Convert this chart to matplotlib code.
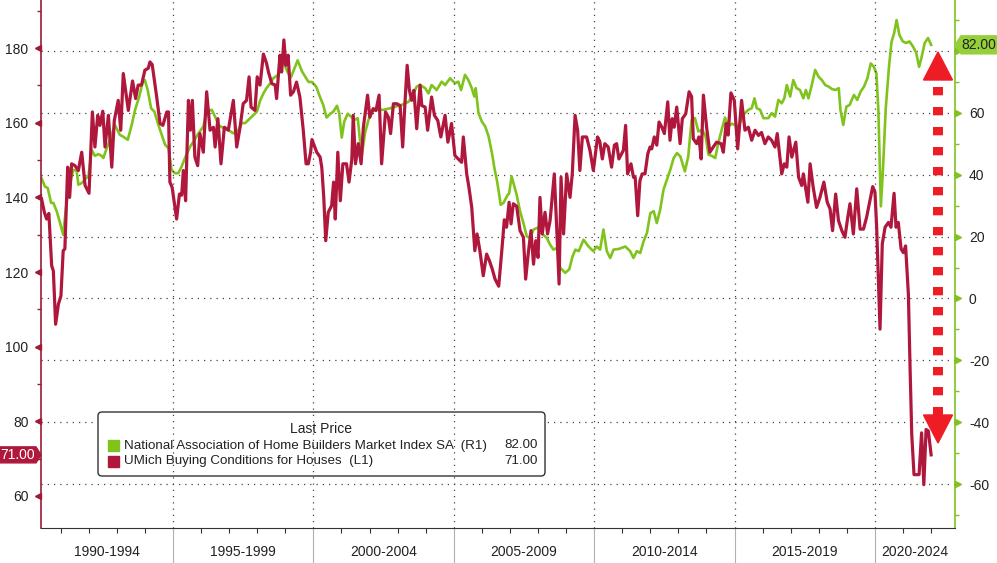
import numpy as np
import matplotlib
matplotlib.use('Agg')
import matplotlib.pyplot as plt
from matplotlib import font_manager
from matplotlib.lines import Line2D
from matplotlib.patches import Polygon, Rectangle, FancyBboxPatch
from matplotlib.transforms import ScaledTranslation, IdentityTransform, blended_transform_factory

# UMich Buying Conditions for Houses (left axis)
umich_x = [1990.32, 1990.42, 1990.50, 1990.58, 1990.68, 1990.74, 1990.82, 1990.92, 1991.01, 1991.09,
           1991.15, 1991.25, 1991.32, 1991.39, 1991.51, 1991.63, 1991.75, 1991.87, 1992.01, 1992.13,
           1992.22, 1992.32, 1992.40, 1992.50, 1992.58, 1992.70, 1992.82, 1992.91, 1993.05, 1993.14,
           1993.23, 1993.41, 1993.56, 1993.67, 1993.76, 1993.88, 1994.00, 1994.12, 1994.18, 1994.26,
           1994.42, 1994.54, 1994.64, 1994.78, 1994.84, 1994.89, 1994.97, 1995.13, 1995.23, 1995.31,
           1995.37, 1995.45, 1995.55, 1995.62, 1995.69, 1995.78, 1995.88, 1995.96, 1996.08, 1996.20,
           1996.32, 1996.44, 1996.50, 1996.60, 1996.71, 1996.83, 1996.97, 1997.15, 1997.27, 1997.39,
           1997.50, 1997.62, 1997.71, 1997.78, 1997.92, 1998.00, 1998.10, 1998.22, 1998.33, 1998.40,
           1998.52, 1998.64, 1998.69, 1998.81, 1998.87, 1998.95, 1999.02, 1999.10, 1999.19, 1999.29,
           1999.40, 1999.52, 1999.64, 1999.74, 1999.82, 1999.90, 1999.95, 2000.12, 2000.24, 2000.30,
           2000.37, 2000.44, 2000.53, 2000.65, 2000.72, 2000.78, 2000.87, 2000.96, 2001.05, 2001.18,
           2001.27, 2001.37, 2001.42, 2001.50, 2001.60, 2001.70, 2001.78, 2001.93, 2002.01, 2002.13,
           2002.23, 2002.34, 2002.43, 2002.57, 2002.67, 2002.75, 2002.85, 2002.97, 2003.09, 2003.18,
           2003.26, 2003.34, 2003.42, 2003.50, 2003.58, 2003.68, 2003.80, 2003.86, 2003.98, 2004.07,
           2004.21, 2004.31, 2004.43, 2004.54, 2004.69, 2004.79, 2004.92, 2005.04, 2005.16, 2005.28,
           2005.34, 2005.46, 2005.54, 2005.64, 2005.75, 2005.83, 2005.93, 2006.05, 2006.17, 2006.27,
           2006.37, 2006.47, 2006.60, 2006.71, 2006.80, 2006.88, 2006.97, 2007.04, 2007.12, 2007.24,
           2007.36, 2007.48, 2007.56, 2007.65, 2007.75, 2007.84, 2007.92, 2008.00, 2008.07, 2008.15,
           2008.25, 2008.34, 2008.43, 2008.58, 2008.67, 2008.75, 2008.82, 2008.91, 2009.02, 2009.14,
           2009.22, 2009.32, 2009.41, 2009.49, 2009.58, 2009.73, 2009.85, 2009.97, 2010.12, 2010.20,
           2010.29, 2010.38, 2010.50, 2010.62, 2010.72, 2010.80, 2010.88, 2011.04, 2011.12, 2011.19,
           2011.31, 2011.40, 2011.46, 2011.55, 2011.63, 2011.71, 2011.81, 2011.91, 2011.99, 2012.05,
           2012.14, 2012.23, 2012.31, 2012.41, 2012.50, 2012.62, 2012.70, 2012.78, 2012.85, 2012.94,
           2013.06, 2013.14, 2013.26, 2013.38, 2013.47, 2013.53, 2013.65, 2013.73, 2013.81, 2013.89,
           2014.01, 2014.12, 2014.24, 2014.36, 2014.52, 2014.60, 2014.70, 2014.77, 2014.87, 2014.99,
           2015.11, 2015.25, 2015.37, 2015.49, 2015.61, 2015.73, 2015.85, 2015.96, 2016.08, 2016.20,
           2016.32, 2016.44, 2016.52, 2016.68, 2016.77, 2016.86, 2016.94, 2017.04, 2017.18, 2017.28,
           2017.39, 2017.45, 2017.61, 2017.69, 2017.80, 2017.92, 2018.04, 2018.18, 2018.30, 2018.40,
           2018.49, 2018.60, 2018.70, 2018.82, 2018.93, 2019.03, 2019.11, 2019.23, 2019.35, 2019.47,
           2019.59, 2019.70, 2019.82, 2019.92, 2020.00, 2020.06, 2020.18, 2020.26, 2020.36, 2020.48,
           2020.57, 2020.68, 2020.75, 2020.83, 2020.93, 2021.01, 2021.09, 2021.19, 2021.25, 2021.31,
           2021.39, 2021.49, 2021.57, 2021.66, 2021.74, 2021.82, 2021.90, 2022.00]
umich_y = [139.6, 136.0, 134.2, 135.7, 121.7, 120.3, 106.0, 111.4, 113.6, 125.7,
           126.2, 148.1, 140.0, 149.0, 148.5, 147.2, 152.1, 143.2, 141.1, 162.9,
           153.5, 162.0, 159.3, 163.1, 153.5, 162.0, 148.1, 160.6, 166.0, 158.0,
           173.2, 163.3, 171.2, 166.5, 170.1, 170.1, 174.1, 174.6, 176.3, 175.6,
           166.9, 159.8, 159.3, 162.9, 162.9, 144.1, 142.7, 134.2, 140.9, 140.6,
           147.2, 139.1, 166.0, 158.0, 166.0, 150.8, 148.5, 157.1, 152.1, 168.3,
           158.0, 158.8, 153.5, 161.1, 149.0, 158.8, 158.0, 166.0, 153.5, 158.8,
           165.1, 166.0, 172.3, 164.2, 163.3, 172.3, 170.1, 178.4, 176.0, 173.6,
           170.5, 170.1, 166.5, 178.1, 173.6, 182.2, 175.4, 178.1, 167.4, 168.3,
           170.9, 166.9, 158.0, 149.0, 149.0, 152.1, 155.5, 152.1, 150.8, 148.0,
           140.0, 128.4, 136.0, 137.8, 144.1, 134.2, 152.1, 139.1, 149.0, 149.0,
           144.1, 150.3, 162.0, 149.0, 154.4, 149.0, 158.8, 167.4, 161.5, 163.8,
           163.3, 167.4, 149.0, 162.9, 161.5, 157.1, 165.1, 165.1, 164.6, 153.5,
           165.1, 175.4, 168.7, 166.0, 168.7, 158.4, 170.1, 164.6, 164.2, 158.0,
           166.9, 162.0, 160.6, 156.2, 162.0, 154.8, 159.8, 151.2, 150.3, 149.4,
           156.2, 146.3, 142.7, 137.3, 125.7, 130.2, 125.7, 119.0, 124.8, 123.0,
           120.8, 118.1, 116.2, 125.7, 134.0, 132.0, 138.7, 132.9, 138.3, 137.6,
           131.1, 129.3, 118.1, 124.8, 131.1, 122.1, 128.4, 123.9, 140.0, 130.2,
           136.0, 130.2, 133.8, 146.3, 131.1, 116.8, 145.4, 130.2, 146.3, 140.0,
           146.3, 162.0, 158.0, 147.2, 156.2, 156.2, 152.6, 147.2, 156.2, 155.0,
           150.3, 154.4, 153.5, 148.1, 154.0, 154.4, 150.3, 152.6, 159.3, 146.3,
           149.0, 145.4, 145.4, 135.1, 144.5, 146.3, 146.3, 151.7, 153.5, 153.0,
           156.2, 154.0, 160.2, 158.8, 157.1, 165.6, 155.3, 161.1, 158.8, 164.2,
           154.4, 161.1, 162.4, 168.3, 167.0, 155.7, 154.4, 156.2, 150.3, 167.4,
           158.4, 152.1, 153.5, 154.8, 154.4, 152.1, 159.8, 156.7, 168.0, 166.0,
           153.0, 166.0, 158.0, 158.8, 155.3, 158.0, 156.6, 157.4, 154.4, 156.2,
           155.3, 153.5, 157.1, 146.3, 149.0, 148.1, 156.2, 150.8, 154.8, 145.4,
           143.2, 146.3, 138.7, 149.0, 142.7, 137.3, 140.0, 144.1, 138.7, 136.9,
           131.1, 140.9, 133.8, 131.1, 129.3, 134.6, 138.3, 130.2, 142.3, 131.5,
           131.5, 134.6, 139.1, 142.9, 141.4, 132.0, 104.7, 127.5, 132.0, 133.3,
           132.0, 141.1, 132.0, 133.3, 126.2, 125.2, 127.0, 114.0, 94.3, 76.4,
           65.7, 65.7, 65.7, 76.9, 63.0, 77.8, 77.4, 71.0]

# NAHB Market Index SA (right axis)
nahb_x = [1990.32, 1990.44, 1990.54, 1990.66, 1990.74, 1990.86, 1990.98, 1991.09, 1991.21, 1991.33,
          1991.45, 1991.57, 1991.63, 1991.75, 1991.87, 1991.99, 1992.10, 1992.22, 1992.34, 1992.46,
          1992.52, 1992.64, 1992.76, 1992.93, 1993.11, 1993.23, 1993.39, 1993.53, 1993.65, 1993.80,
          1993.91, 1994.00, 1994.10, 1994.22, 1994.34, 1994.48, 1994.60, 1994.72, 1994.84, 1994.95,
          1995.07, 1995.19, 1995.31, 1995.45, 1995.61, 1995.77, 1995.91, 1996.08, 1996.20, 1996.38,
          1996.50, 1996.62, 1996.79, 1996.97, 1997.15, 1997.33, 1997.45, 1997.57, 1997.75, 1997.87,
          1997.99, 1998.10, 1998.22, 1998.33, 1998.46, 1998.57, 1998.75, 1998.93, 1999.07, 1999.20,
          1999.44, 1999.59, 1999.71, 1999.83, 1999.95, 2000.10, 2000.22, 2000.35, 2000.47, 2000.60,
          2000.71, 2000.84, 2000.92, 2001.01, 2001.10, 2001.22, 2001.34, 2001.46, 2001.58, 2001.72,
          2001.84, 2001.96, 2002.08, 2002.26, 2002.50, 2002.73, 2002.91, 2003.15, 2003.39, 2003.51,
          2003.68, 2003.80, 2003.98, 2004.10, 2004.21, 2004.39, 2004.57, 2004.69, 2004.87, 2005.04,
          2005.16, 2005.26, 2005.40, 2005.52, 2005.64, 2005.73, 2005.78, 2005.88, 2006.00, 2006.12,
          2006.24, 2006.36, 2006.45, 2006.54, 2006.60, 2006.67, 2006.77, 2006.92, 2006.97, 2007.06,
          2007.16, 2007.24, 2007.36, 2007.48, 2007.60, 2007.72, 2007.84, 2007.96, 2008.07, 2008.19,
          2008.31, 2008.43, 2008.55, 2008.67, 2008.79, 2008.85, 2008.97, 2009.11, 2009.23, 2009.33,
          2009.45, 2009.62, 2009.80, 2009.97, 2010.09, 2010.21, 2010.33, 2010.45, 2010.57, 2010.69,
          2010.87, 2011.11, 2011.28, 2011.40, 2011.52, 2011.64, 2011.76, 2011.88, 2012.00, 2012.12,
          2012.23, 2012.35, 2012.47, 2012.59, 2012.71, 2012.83, 2012.95, 2013.07, 2013.23, 2013.35,
          2013.47, 2013.59, 2013.71, 2013.85, 2013.97, 2014.07, 2014.19, 2014.31, 2014.42, 2014.54,
          2014.66, 2014.78, 2014.90, 2015.02, 2015.14, 2015.31, 2015.49, 2015.61, 2015.71, 2015.79,
          2015.91, 2016.03, 2016.20, 2016.32, 2016.44, 2016.56, 2016.68, 2016.77, 2016.86, 2016.98,
          2017.09, 2017.21, 2017.33, 2017.45, 2017.54, 2017.63, 2017.75, 2017.87, 2017.99, 2018.11,
          2018.23, 2018.35, 2018.47, 2018.59, 2018.71, 2018.77, 2018.87, 2018.98, 2019.10, 2019.25,
          2019.37, 2019.49, 2019.61, 2019.73, 2019.85, 2019.96, 2020.05, 2020.12, 2020.21, 2020.29,
          2020.38, 2020.50, 2020.59, 2020.68, 2020.77, 2020.87, 2020.99, 2021.11, 2021.23, 2021.35,
          2021.47, 2021.57, 2021.65, 2021.77, 2021.89, 2022.00]
nahb_y = [38.9, 36.2, 35.7, 30.9, 30.9, 28.2, 24.4, 20.6, 30.9, 37.3,
          41.6, 41.3, 36.8, 37.3, 38.6, 39.5, 48.1, 46.1, 46.7, 46.1,
          45.4, 48.6, 51.3, 56.1, 52.9, 52.3, 51.3, 56.1, 61.0, 65.3,
          69.6, 70.6, 67.4, 61.5, 60.4, 56.1, 52.9, 49.7, 48.6, 41.6,
          40.5, 40.5, 42.7, 45.9, 49.1, 51.3, 53.4, 55.6, 60.4, 61.0,
          58.8, 56.1, 55.1, 54.5, 53.4, 54.5, 56.7, 56.7, 58.3, 59.4,
          60.4, 63.9, 66.3, 68.0, 69.5, 71.2, 72.3, 76.5, 73.4, 71.5,
          77.0, 73.5, 71.7, 70.0, 70.0, 68.5, 65.5, 62.6, 58.5, 59.7,
          60.4, 62.3, 59.9, 52.0, 57.2, 59.7, 58.8, 57.7, 58.3, 45.9,
          53.5, 57.7, 60.4, 61.0, 61.0, 61.5, 62.0, 62.6, 63.6, 65.3,
          68.5, 69.0, 68.0, 66.3, 69.0, 67.4, 70.1, 69.0, 71.2, 69.6,
          70.1, 67.4, 72.3, 70.6, 68.0, 65.3, 68.0, 59.9, 57.2, 55.6,
          52.4, 47.0, 42.0, 38.0, 34.6, 30.3, 30.9, 33.5, 33.9, 39.5,
          36.2, 33.5, 28.2, 24.4, 20.1, 19.6, 22.3, 22.8, 22.8, 20.6,
          19.6, 17.4, 15.8, 16.3, 9.9, 9.4, 8.3, 9.4, 13.6, 15.8,
          15.3, 19.0, 16.8, 15.3, 16.8, 15.8, 22.3, 15.3, 13.1, 15.8,
          16.0, 16.8, 15.3, 13.1, 15.3, 14.7, 18.5, 21.2, 27.6, 28.2,
          24.4, 28.7, 35.2, 38.4, 41.6, 45.4, 47.0, 45.9, 41.1, 45.9,
          57.7, 58.3, 54.0, 54.5, 52.4, 46.5, 46.1, 45.4, 50.2, 54.5,
          58.5, 55.6, 56.5, 56.1, 55.6, 59.4, 61.0, 61.5, 64.7, 61.5,
          61.0, 58.3, 58.3, 59.9, 58.8, 64.2, 63.1, 64.7, 69.0, 65.3,
          70.6, 68.0, 67.4, 64.7, 67.4, 64.7, 69.0, 73.9, 71.7, 70.6,
          69.0, 68.5, 67.7, 67.4, 68.0, 61.0, 56.1, 62.0, 62.6, 65.8,
          64.2, 66.9, 68.5, 71.2, 76.0, 74.9, 72.8, 61.0, 29.8, 42.7,
          61.0, 75.0, 83.0, 85.7, 90.0, 85.2, 83.1, 82.6, 83.1, 81.5,
          79.4, 74.9, 77.6, 82.6, 84.2, 82.0]

periods = [1990, 1995, 2000, 2005, 2010, 2015, 2020, 2025]
umich_label = 'UMich Buying Conditions for Houses  (L1)'
nahb_label = 'National Association of Home Builders Market Index SA  (R1)'
umich_last = 71.00
nahb_last = 82.00

RED = '#b0173d'
RED_AXIS = '#9c1b35'
GREEN = '#7fc31c'
GREEN_TAG = '#95cf3a'
ARROW = '#ee1c25'
TEXT = '#222222'

names = {f.name for f in font_manager.fontManager.ttflist}
narrow = 'Liberation Sans Narrow' if 'Liberation Sans Narrow' in names else 'Liberation Sans'
plt.rcParams['font.family'] = [narrow, 'DejaVu Sans']
plt.rcParams['font.size'] = 10

W, H = 997, 563
fig = plt.figure(figsize=(W / 100, H / 100), dpi=100)
fig.patch.set_facecolor('white')
ax = fig.add_axes([41 / W, 35 / H, 914 / W, 528 / H])
ax2 = ax.twinx()

ax2.plot(nahb_x, nahb_y, color=GREEN, lw=1.9, solid_joinstyle='round')
ax.plot(umich_x, umich_y, color=RED, lw=2.3, solid_joinstyle='round')
ax.set_zorder(ax2.get_zorder() + 1)
ax.patch.set_visible(False)

ax.set_xlim(1990.30, 2022.85)
ax.set_ylim(51.4, 192.9)
ax2.set_ylim(-74.2, 96.5)

for s in ['top', 'right']:
    ax.spines[s].set_visible(False)
for s in ['top', 'left', 'bottom']:
    ax2.spines[s].set_visible(False)
ax.spines['left'].set_color(RED_AXIS)
ax.spines['left'].set_linewidth(1.2)
ax.spines['bottom'].set_color('#333333')
ax2.spines['right'].set_color(GREEN)
ax2.spines['right'].set_linewidth(1.2)

# y ticks
lt = np.arange(60, 181, 20)
ax.set_yticks(lt)
ax.set_yticks(np.arange(70, 191, 20), minor=True)
ax.tick_params(axis='y', which='major', length=0, pad=9, labelcolor=TEXT, labelsize=10)
ax.tick_params(axis='y', which='minor', length=3, color=RED_AXIS, width=1)
ax.plot(np.zeros(len(lt)), lt, ls='none', marker='<', ms=5, color=RED_AXIS, clip_on=False,
        transform=ax.get_yaxis_transform() + ScaledTranslation(-3 / 100, 0, fig.dpi_scale_trans))

rt = np.arange(-60, 81, 20)
ax2.set_yticks(rt)
# the top label sits under the last-price tag in the reference
ax2.set_yticklabels([str(v) if v < 80 else '' for v in rt])
ax2.set_yticks(np.arange(-70, 91, 20), minor=True)
ax2.tick_params(axis='y', which='major', length=0, pad=10, labelcolor=TEXT, labelsize=10)
ax2.tick_params(axis='y', which='minor', length=3, color=GREEN, width=1)
ax2.plot(np.ones(len(rt)), rt, ls='none', marker='>', ms=5, color=GREEN, clip_on=False,
         transform=ax2.get_yaxis_transform() + ScaledTranslation(3 / 100, 0, fig.dpi_scale_trans))
ax2.grid(axis='y', color='#444444', ls=(0, (1, 4)), lw=0.9)

# x axis
ax.set_xticks(periods[1:-1])
ax.set_xticks(np.arange(1991, 2023), minor=True)
ax.tick_params(axis='x', which='major', length=26, color='#b0b0b0', width=0.8, labelbottom=False)
ax.tick_params(axis='x', which='minor', length=3.5, color='#333333', width=0.8)
ax.grid(axis='x', color='#444444', ls=(0, (1, 4)), lw=0.9)
x0, x1 = ax.get_xlim()
bt = blended_transform_factory(ax.transData, ax.transAxes)
for a, b in zip(periods[:-1], periods[1:]):
    lo, hi = max(a, x0), min(b, x1)
    ax.text((lo + hi) / 2, -0.046, f'{a}-{b - 1}', transform=bt, ha='center', va='center',
            color=TEXT, fontsize=10)

# last value tags
yl = ax.transData.transform((x0, umich_last))[1]
fig.add_artist(Polygon([(0, yl - 8), (36, yl - 8), (41, yl), (36, yl + 8), (0, yl + 8)],
                       closed=True, color=RED, transform=IdentityTransform()))
fig.text(18 / W, yl / H, f'{umich_last:.2f}', color='white', ha='center', va='center', fontsize=10)

yr = ax2.transData.transform((x0, nahb_last))[1]
fig.add_artist(Polygon([(955, yr), (961, yr + 9), (997, yr + 9), (997, yr - 9), (961, yr - 9)],
                       closed=True, color=GREEN_TAG, transform=IdentityTransform()))
fig.text(979 / W, yr / H, f'{nahb_last:.2f}', color=TEXT, ha='center', va='center', fontsize=10)

# legend box
fig.add_artist(FancyBboxPatch((98, 87), 447, 64, boxstyle='round,pad=0,rounding_size=4',
                              facecolor='white', edgecolor='#333333', lw=1, transform=IdentityTransform()))
fig.text(321 / W, 134 / H, 'Last Price', ha='center', va='center', color=TEXT, fontsize=10)
for yy, col, lab, val in [(117.5, GREEN, nahb_label, nahb_last), (102, RED, umich_label, umich_last)]:
    fig.add_artist(Rectangle((108, yy - 5.5), 11, 11, color=col, transform=IdentityTransform()))
    fig.text(124 / W, yy / H, lab, ha='left', va='center', color=TEXT, fontsize=9.6)
    fig.text(538 / W, yy / H, f'{val:.2f}', ha='right', va='center', color=TEXT, fontsize=9.6)

# red dashed double arrow
fig.add_artist(Line2D([938, 938], [476, 148], color=ARROW, lw=7.2, ls=(0, (0.83, 1.17)),
                      solid_capstyle='butt', dash_capstyle='butt', transform=IdentityTransform()))
fig.add_artist(Polygon([(938, 511), (923.5, 483), (952.5, 483)], closed=True, color=ARROW,
                       transform=IdentityTransform()))
fig.add_artist(Polygon([(938, 120), (923.5, 148), (952.5, 148)], closed=True, color=ARROW,
                       transform=IdentityTransform()))

fig.savefig('out.png', dpi=100, facecolor='white')
